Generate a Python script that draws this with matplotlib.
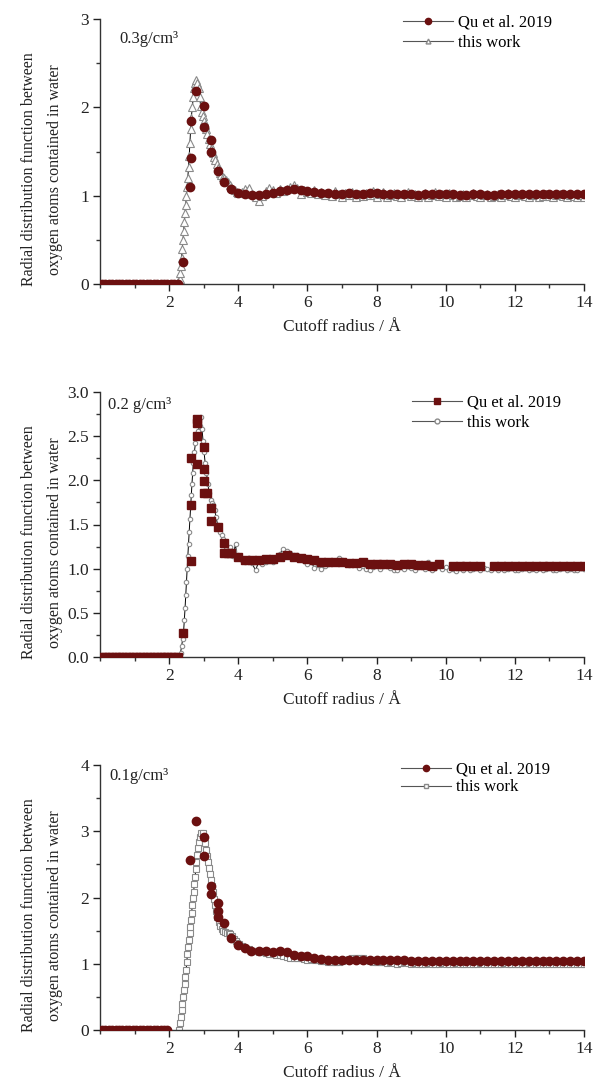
import numpy as np
import matplotlib
matplotlib.use("Agg")
import matplotlib.pyplot as plt
from matplotlib.lines import Line2D
from matplotlib.ticker import MultipleLocator, FormatStrFormatter

plt.rcParams['font.family'] = ['Liberation Serif', 'DejaVu Serif']

# -----------------------------
# DATA
# -----------------------------
# Panel 1: 0.3 g/cm3
qu1_head_x = np.arange(0.05, 2.35, 0.1)
qu1_peak_x = [2.41, 2.60, 2.62, 2.62, 2.78, 3.00, 3.00, 3.20, 3.20, 3.40, 3.59, 3.79, 4.00]
qu1_peak_y = [0.25, 1.10, 1.43, 1.85, 2.18, 2.02, 1.78, 1.63, 1.50, 1.28, 1.15, 1.08, 1.03]
qu1_tail_y = [1.02, 1.01, 1.01, 1.02, 1.03, 1.05, 1.06, 1.07, 1.06, 1.05,
              1.04, 1.03, 1.03, 1.02, 1.02, 1.03, 1.02, 1.02, 1.03, 1.03,
              1.02, 1.02, 1.02, 1.02, 1.02, 1.01, 1.02, 1.02, 1.02, 1.02,
              1.02, 1.01, 1.01, 1.02, 1.02, 1.01, 1.01, 1.02, 1.02, 1.02,
              1.02, 1.02, 1.02, 1.02, 1.02, 1.02, 1.02, 1.02, 1.02, 1.02]

tw1_peak_x = [2.27, 2.30, 2.32, 2.34, 2.36, 2.38, 2.40, 2.42, 2.44, 2.46, 2.48, 2.50,
              2.52, 2.54, 2.56, 2.58, 2.60, 2.62, 2.64, 2.67, 2.70, 2.73, 2.76, 2.79,
              2.82, 2.85, 2.88, 2.91, 2.94, 2.97, 3.00, 3.03, 3.06, 3.10, 3.14, 3.18,
              3.22, 3.26, 3.30, 3.34, 3.38, 3.42, 3.46, 3.50, 3.55, 3.60, 3.65, 3.70,
              3.75, 3.80, 3.85, 3.90, 3.95, 4.00]
tw1_peak_y = [0.02, 0.06, 0.12, 0.20, 0.30, 0.40, 0.50, 0.60, 0.70, 0.80, 0.90, 1.00,
              1.10, 1.20, 1.32, 1.45, 1.60, 1.75, 1.88, 2.00, 2.12, 2.22, 2.28, 2.31,
              2.28, 2.22, 2.12, 2.02, 1.95, 1.90, 1.85, 1.80, 1.75, 1.70, 1.64, 1.58,
              1.53, 1.48, 1.44, 1.40, 1.36, 1.31, 1.26, 1.23, 1.21, 1.20, 1.18, 1.15,
              1.12, 1.10, 1.08, 1.06, 1.04, 1.03]
tw1_tail_y = [1.04, 1.07, 1.09, 1.02, 0.98, 0.94, 1.00, 1.05, 1.09, 1.06,
              1.03, 1.07, 1.05, 1.08, 1.10, 1.12, 1.09, 1.02, 1.06, 1.04,
              1.03, 1.06, 1.02, 1.04, 1.01, 1.03, 1.00, 1.05, 1.02, 0.99,
              1.03, 1.01, 1.04, 0.98, 1.02, 1.00, 1.03, 1.01, 1.05, 0.99,
              1.02, 1.04, 0.99, 1.01, 1.03, 1.00, 0.98, 1.02, 1.04, 1.00,
              1.02, 0.99, 1.01, 1.03, 0.99, 1.01, 1.04, 1.00, 1.02, 0.99,
              1.03, 1.01, 0.98, 1.00, 1.02, 0.99, 1.01, 1.03, 1.00, 0.98,
              1.01, 1.02, 0.99, 1.00, 1.02, 0.99, 1.01, 1.03, 1.00, 0.99,
              1.01, 1.02, 1.00, 0.99, 1.01, 1.02, 0.99, 1.00, 1.02, 1.00,
              0.99, 1.01, 1.02, 1.00, 0.99, 1.01, 1.00, 0.99, 1.01, 0.99]

# Panel 2: 0.2 g/cm3
qu2_head_x = np.arange(0.05, 2.35, 0.1)
qu2_peak_x = [2.41, 2.62, 2.62, 2.62, 2.81, 2.81, 2.81, 2.81, 3.00, 3.00, 3.00, 3.00,
              3.10, 3.20, 3.20, 3.40, 3.60, 3.60, 3.70, 3.80, 4.00, 4.20, 4.40]
qu2_peak_y = [0.27, 1.09, 1.72, 2.25, 2.19, 2.50, 2.65, 2.69, 2.38, 2.13, 1.99, 1.86,
              1.86, 1.69, 1.54, 1.47, 1.29, 1.18, 1.18, 1.18, 1.13, 1.10, 1.10]
qu2_tail_y = [1.10, 1.11, 1.11, 1.13, 1.15, 1.13, 1.12, 1.11, 1.10, 1.07,
              1.07, 1.07, 1.07, 1.06, 1.06, 1.07, 1.05, 1.05, 1.05, 1.05,
              1.04, 1.05, 1.05, 1.04, 1.04, 1.03, 1.05, np.nan, 1.03, 1.03,
              1.03, 1.03, 1.03, np.nan, 1.03, 1.03, 1.03, 1.03, 1.03, 1.03,
              1.03, 1.03, 1.03, 1.03, 1.03, 1.03, 1.03, 1.03]

tw2_peak_x = [2.28, 2.33, 2.36, 2.39, 2.42, 2.44, 2.46, 2.48, 2.50, 2.52, 2.54, 2.56,
              2.58, 2.60, 2.62, 2.64, 2.66, 2.68, 2.70, 2.73, 2.76, 2.80, 2.84, 2.88,
              2.92, 2.95, 2.98, 3.01, 3.04, 3.08, 3.12, 3.16, 3.20, 3.24, 3.28, 3.32,
              3.36, 3.40, 3.44, 3.48, 3.52, 3.56, 3.60, 3.64, 3.68, 3.72, 3.76, 3.80,
              3.84, 3.88, 3.92, 3.96, 4.00]
tw2_peak_y = [0.00, 0.05, 0.12, 0.20, 0.30, 0.42, 0.55, 0.70, 0.85, 1.00, 1.14, 1.28,
              1.42, 1.56, 1.70, 1.83, 1.96, 2.08, 2.20, 2.32, 2.42, 2.50, 2.56, 2.62,
              2.72, 2.58, 2.45, 2.32, 2.20, 2.08, 1.96, 1.86, 1.78, 1.74, 1.72, 1.66,
              1.58, 1.50, 1.46, 1.42, 1.38, 1.34, 1.28, 1.22, 1.18, 1.20, 1.24, 1.16,
              1.14, 1.20, 1.28, 1.13, 1.16]
tw2_tail_y = [1.10, 1.08, 1.12, 1.06, 0.98, 1.09, 1.05, 1.08, 1.10, 1.07,
              1.12, 1.17, 1.22, 1.20, 1.18, 1.16, 1.15, 1.12, 1.09, 1.05,
              1.08, 1.01, 1.04, 1.00, 1.03, 1.05, 1.07, 1.09, 1.12, 1.10,
              1.06, 1.04, 1.08, 1.05, 1.01, 1.03, 1.00, 0.99, 1.02, 1.04,
              1.00, 1.03, 1.05, 1.01, 0.99, 0.98, 1.02, 1.00, 1.03, 1.01,
              0.99, 1.02, 1.04, 1.00, 1.07, 0.99, 1.01, 1.03, 1.00, 1.02,
              0.98, 1.00, 0.97, 1.01, 0.99, 1.02, 0.98, 1.00, 1.02, 0.99,
              1.01, 1.00, 0.98, 1.02, 0.99, 1.01, 0.98, 1.00, 1.02, 0.99,
              0.98, 1.00, 1.01, 0.98, 1.00, 0.99, 1.01, 0.98, 1.00, 1.01,
              0.99, 0.98, 1.00, 1.01, 0.99, 1.00, 0.98, 0.99, 1.01, 1.00]

# Panel 3: 0.1 g/cm3
qu3_head_x = np.arange(0.05, 2.05, 0.1)
qu3_peak_x = [2.60, 2.79, 3.02, 3.00, 3.21, 3.21, 3.41, 3.41, 3.41, 3.60, 3.79, 4.00, 4.19, 4.38]
qu3_peak_y = [2.56, 3.15, 2.91, 2.63, 2.18, 2.05, 1.92, 1.79, 1.71, 1.61, 1.39, 1.29, 1.24, 1.20]
qu3_tail_y = [1.20, 1.20, 1.17, 1.20, 1.17, 1.13, 1.11, 1.11, 1.09, 1.07,
              1.06, 1.06, 1.06, 1.06, 1.06, 1.06, 1.05, 1.05, 1.05, 1.05,
              1.05, 1.05, 1.04, 1.04, 1.04, 1.04, 1.04, 1.04, 1.04, 1.04,
              1.04, 1.04, 1.04, 1.04, 1.04, 1.04, 1.04, 1.04, 1.04, 1.04,
              1.04, 1.04, 1.04, 1.04, 1.04, 1.04, 1.04, 1.04]

tw3_peak_x = [2.29, 2.30, 2.33, 2.36, 2.38, 2.40, 2.43, 2.45, 2.47, 2.49, 2.51, 2.53,
              2.55, 2.57, 2.59, 2.61, 2.63, 2.65, 2.67, 2.69, 2.71, 2.73, 2.75, 2.77,
              2.79, 2.81, 2.84, 2.86, 2.89, 2.93, 2.97, 3.01, 3.04, 3.07, 3.10, 3.12,
              3.15, 3.17, 3.20, 3.23, 3.26, 3.29, 3.32, 3.35, 3.39, 3.43, 3.47, 3.52,
              3.57, 3.62, 3.67, 3.72, 3.77, 3.82, 3.87, 3.92, 3.97, 4.02]
tw3_peak_y = [0.00, 0.10, 0.20, 0.30, 0.40, 0.50, 0.60, 0.70, 0.80, 0.90, 1.03, 1.15,
              1.26, 1.36, 1.46, 1.56, 1.66, 1.77, 1.88, 1.99, 2.09, 2.20, 2.31, 2.43,
              2.53, 2.64, 2.74, 2.84, 2.92, 2.97, 2.97, 2.91, 2.82, 2.72, 2.63, 2.53,
              2.44, 2.36, 2.27, 2.18, 2.08, 1.98, 1.88, 1.79, 1.71, 1.63, 1.57, 1.52,
              1.50, 1.48, 1.47, 1.46, 1.45, 1.42, 1.38, 1.35, 1.32, 1.30]
tw3_tail_y = [1.27, 1.24, 1.22, 1.20, 1.19, 1.18, 1.17, 1.16, 1.15, 1.14,
              1.13, 1.13, 1.12, 1.10, 1.09, 1.09, 1.08, 1.08, 1.07, 1.06,
              1.07, 1.06, 1.05, 1.04, 1.04, 1.03, 1.03, 1.02, 1.03, 1.04,
              1.06, 1.07, 1.08, 1.09, 1.09, 1.08, 1.06, 1.04, 1.03, 1.02,
              1.03, 1.02, 1.01, 1.02, 1.01, 1.00, 1.01, 1.02, 1.01, 1.00,
              1.01, 1.00, 0.99, 1.00, 1.01, 1.00, 0.99, 1.00, 1.01, 1.00,
              0.99, 1.00, 1.01, 1.00, 0.99, 1.00, 1.00, 0.99, 1.00, 1.01,
              1.00, 0.99, 1.00, 1.00, 0.99, 1.00, 1.01, 1.00, 0.99, 1.00,
              1.00, 0.99, 1.00, 1.01, 1.00, 0.99, 1.00, 0.99, 1.00, 1.00,
              0.99, 1.00, 1.00, 0.99, 1.00, 1.00, 0.99, 1.00, 0.99, 1.00]

density_labels = ["0.3g/cm\u00b3", "0.2 g/cm\u00b3", "0.1g/cm\u00b3"]
legend_labels = ["Qu et al. 2019", "this work"]

# -----------------------------
# STYLE
# -----------------------------
MAROON = '#6b1010'
GRAY = '#8a8a8a'


def join(head_x, peak_x, peak_y, tail_y, tail_start, tail_end):
    tail_x = np.linspace(tail_start, tail_end, len(tail_y))
    x = np.concatenate([head_x, peak_x, tail_x])
    y = np.concatenate([np.zeros(len(head_x)), peak_y, tail_y])
    return x, y


def join_tw(peak_x, peak_y, tail_y):
    tail_x = np.linspace(4.1, 14.0, len(tail_y))
    return np.concatenate([peak_x, tail_x]), np.concatenate([peak_y, tail_y])


panels = [
    dict(qu=join(qu1_head_x, qu1_peak_x, qu1_peak_y, qu1_tail_y, 4.2, 14.0),
         tw=join_tw(tw1_peak_x, tw1_peak_y, tw1_tail_y),
         qm='o', qms=6, tm='^', tms=5.5, ylim=3, ymaj=1, ymin=0.5, fmt='%d',
         bottom=284, text_xy=(0.041, 0.925), leg_xy=(0.625, 1.016), spacing=0.25),
    dict(qu=join(qu2_head_x, qu2_peak_x, qu2_peak_y, qu2_tail_y, 4.6, 14.0),
         tw=join_tw(tw2_peak_x, tw2_peak_y, tw2_tail_y),
         qm='s', qms=6, tm='o', tms=3.2, ylim=3, ymaj=0.5, ymin=0.25, fmt='%.1f',
         bottom=657, text_xy=(0.016, 0.95), leg_xy=(0.645, 0.99), spacing=0.25),
    dict(qu=join(qu3_head_x, qu3_peak_x, qu3_peak_y, qu3_tail_y, 4.6, 14.0),
         tw=join_tw(tw3_peak_x, tw3_peak_y, tw3_tail_y),
         qm='o', qms=6, tm='s', tms=5, ylim=4, ymaj=1, ymin=0.5, fmt='%d',
         bottom=1030, text_xy=(0.02, 0.96), leg_xy=(0.622, 1.012), spacing=0.1),
]

W, H = 596, 1080
AX_LEFT, AX_W = 100, 484
fig = plt.figure(figsize=(W / 100, H / 100), dpi=100)

for i, p in enumerate(panels):
    ax = fig.add_axes([AX_LEFT / W, 1 - p['bottom'] / H, AX_W / W, 265 / H])

    tx, ty = p['tw']
    ax.plot(tx, ty, color='black', lw=0.7, marker=p['tm'], ms=p['tms'],
            mfc='white', mec=GRAY, mew=0.8, zorder=2)
    qx, qy = p['qu']
    ax.plot(qx, qy, linestyle='none', marker=p['qm'], ms=p['qms'],
            mfc=MAROON, mec=MAROON, zorder=3)

    ax.set_xlim(0, 14)
    ax.set_ylim(0, p['ylim'])
    ax.set_xticks(np.arange(2, 15, 2))
    ax.xaxis.set_minor_locator(MultipleLocator(1))
    ax.yaxis.set_major_locator(MultipleLocator(p['ymaj']))
    ax.yaxis.set_minor_locator(MultipleLocator(p['ymin']))
    ax.yaxis.set_major_formatter(FormatStrFormatter(p['fmt']))

    for s in ['top', 'right']:
        ax.spines[s].set_visible(False)
    for s in ['left', 'bottom']:
        ax.spines[s].set_linewidth(1.0)
        ax.spines[s].set_color('#333333')
    ax.tick_params(which='major', direction='out', length=5, width=1,
                   labelsize=12.5, colors='#222222', pad=3)
    ax.tick_params(which='minor', direction='out', length=3, width=1, colors='#333333')

    ax.set_xlabel("Cutoff radius / \u00c5", fontsize=12.5, labelpad=6, color='#222222')

    ax.text(p['text_xy'][0], p['text_xy'][1], density_labels[i], transform=ax.transAxes,
            fontsize=12, va='center', ha='left', color='#222222')

    handles = [
        Line2D([], [], color='#555555', lw=0.8, marker=p['qm'], ms=4.5,
               mfc=MAROON, mec=MAROON),
        Line2D([], [], color='#555555', lw=0.8, marker=p['tm'], ms=3.5,
               mfc='white', mec=GRAY),
    ]
    ax.legend(handles, legend_labels, loc='upper left', bbox_to_anchor=p['leg_xy'],
              frameon=False, fontsize=12, handlelength=3.0, handletextpad=0.3,
              borderpad=0, borderaxespad=0, labelspacing=p['spacing'], numpoints=1)

    # two-line y label, left of the axis
    yc = (p['bottom'] - 132.5 + 18) / H
    fig.text(42 / W, 1 - yc, "Radial distribution function between\noxygen atoms contained in water",
             rotation=90, ha='center', va='center', fontsize=11.5, linespacing=1.85,
             color='#222222')

fig.savefig("out.png", dpi=100)
